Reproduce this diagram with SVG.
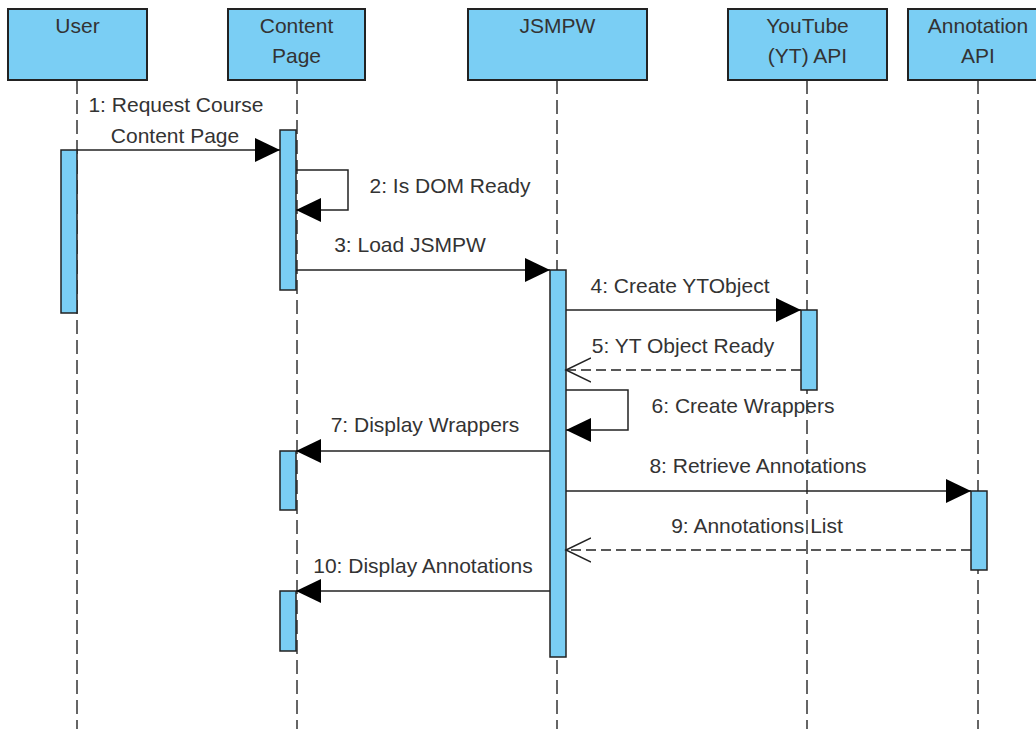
<svg xmlns="http://www.w3.org/2000/svg" width="1036" height="729" viewBox="0 0 1036 729">
<style>
.hd{fill:#7ACEF4;stroke:#222;stroke-width:2}
.act{fill:#7ACEF4;stroke:#222;stroke-width:1.5}
.life{stroke:#333;stroke-width:1.5;stroke-dasharray:14,6;fill:none}
.msg{stroke:#222;stroke-width:1.5;fill:none}
.ret{stroke:#222;stroke-width:1.5;fill:none;stroke-dasharray:10,5}
text{font-family:"Liberation Sans",Arial,sans-serif;font-size:21px;fill:#333;text-anchor:middle}
</style>
<defs>
<marker id="fill" markerUnits="userSpaceOnUse" markerWidth="26" markerHeight="26" refX="25" refY="12" orient="auto">
<path d="M0,0 L25,12 L0,24 z" fill="#000"/>
</marker>
<marker id="open" markerUnits="userSpaceOnUse" markerWidth="28" markerHeight="28" refX="25" refY="13" orient="auto">
<path d="M0,1 L25,13 L0,25" fill="none" stroke="#222" stroke-width="1.5"/>
</marker>
</defs>
<rect width="1036" height="729" fill="#fff"/>
<g id="lifelines">
<line class="life" x1="77" y1="80" x2="77" y2="729"/>
<line class="life" x1="297" y1="80" x2="297" y2="729"/>
<line class="life" x1="557" y1="80" x2="557" y2="729"/>
<line class="life" x1="807" y1="80" x2="807" y2="729"/>
<line class="life" x1="978" y1="80" x2="978" y2="729"/>
</g>
<g id="user"><rect class="hd" x="8" y="9" width="139" height="71"/><text x="77.5" y="33">User</text></g>
<g id="content-page"><rect class="hd" x="228" y="9" width="137" height="71"/><text x="296.5" y="33">Content</text><text x="296.5" y="63">Page</text></g>
<g id="jsmpw"><rect class="hd" x="468" y="9" width="179" height="71"/><text x="557.5" y="33">JSMPW</text></g>
<g id="youtube-api"><rect class="hd" x="728" y="9" width="159" height="71"/><text x="807.5" y="33">YouTube</text><text x="807.5" y="63">(YT) API</text></g>
<g id="annotation-api"><rect class="hd" x="908" y="9" width="140" height="71"/><text x="978" y="33">Annotation</text><text x="978" y="63">API</text></g>
<g id="activations">
<rect class="act" x="61" y="150" width="16" height="163"/>
<rect class="act" x="280" y="130" width="16" height="160"/>
<rect class="act" x="550" y="270" width="16" height="387"/>
<rect class="act" x="801" y="310" width="16" height="80"/>
<rect class="act" x="280" y="451" width="16" height="59"/>
<rect class="act" x="971" y="491" width="16" height="79"/>
<rect class="act" x="280" y="591" width="16" height="60"/>
</g>
<g id="connectors">
<line class="msg" x1="77" y1="150" x2="280" y2="150" marker-end="url(#fill)"/>
<polyline class="msg" points="296,170 348,170 348,210 296,210" marker-end="url(#fill)"/>
<line class="msg" x1="296" y1="270" x2="550" y2="270" marker-end="url(#fill)"/>
<line class="msg" x1="566" y1="310" x2="801" y2="310" marker-end="url(#fill)"/>
<line class="ret" x1="801" y1="370" x2="566" y2="370" marker-end="url(#open)"/>
<polyline class="msg" points="566,390 628,390 628,430 566,430" marker-end="url(#fill)"/>
<line class="msg" x1="550" y1="451" x2="296" y2="451" marker-end="url(#fill)"/>
<line class="msg" x1="566" y1="491" x2="971" y2="491" marker-end="url(#fill)"/>
<line class="ret" x1="971" y1="550" x2="566" y2="550" marker-end="url(#open)"/>
<line class="msg" x1="550" y1="591" x2="296" y2="591" marker-end="url(#fill)"/>
</g>
<g id="labels">
<text x="176" y="112">1: Request Course</text>
<text x="175" y="143">Content Page</text>
<text x="450" y="193">2: Is DOM Ready</text>
<text x="410" y="252">3: Load JSMPW</text>
<text x="680" y="293">4: Create YTObject</text>
<text x="683" y="353">5: YT Object Ready</text>
<text x="743" y="413">6: Create Wrappers</text>
<text x="425" y="432">7: Display Wrappers</text>
<text x="758" y="473">8: Retrieve Annotations</text>
<text x="757" y="533">9: Annotations List</text>
<text x="423" y="573">10: Display Annotations</text>
</g>
</svg>
